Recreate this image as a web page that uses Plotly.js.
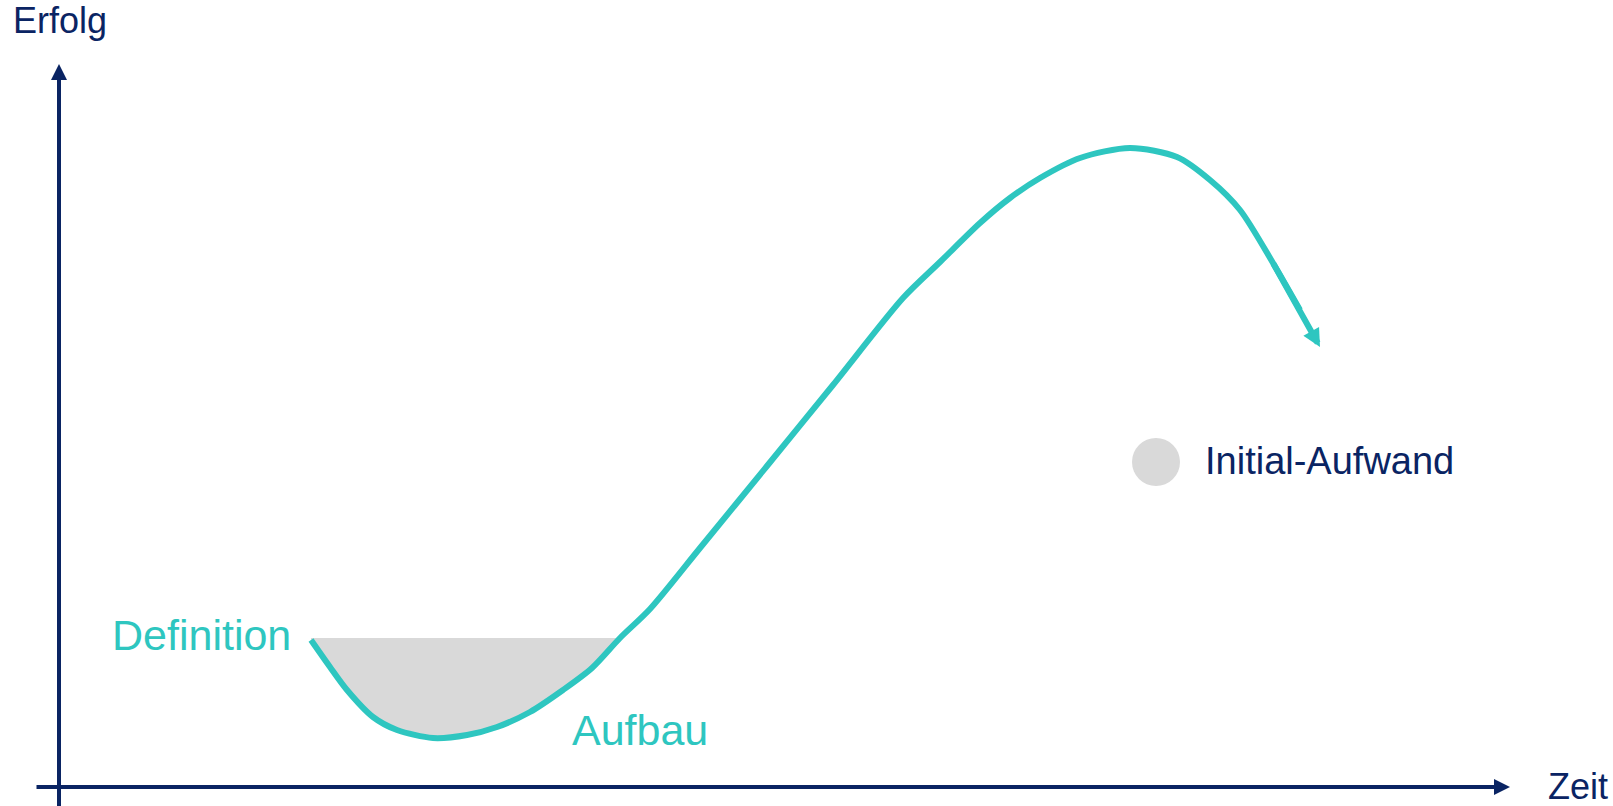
<!DOCTYPE html>
<html>
<head>
<meta charset="utf-8">
<script src="https://cdn.plot.ly/plotly-3.0.1.min.js"></script>
<style>
  html, body { margin: 0; padding: 0; background: #ffffff; }
  #chart { width: 1613px; height: 806px; }
</style>
</head>
<body>
<div id="chart"></div>
<script>
// Erfolgskurve über die Zeit (Definition → Aufbau → Höhepunkt → Abfall)
const zeit = [25.2, 27.1, 28.8, 31.4, 33.8, 37.4, 40.8, 43.8, 47.1, 50.4, 53.3, 56.1,
              59.1, 64.1, 70.8, 77.4, 84.4, 88.1, 92.1, 95.1, 98.1, 102.1, 107.1,
              111.8, 115.1, 118.1, 121.4, 124.1, 126.1];
const erfolg = [14.7, 12.0, 9.7, 7.0, 5.7, 4.9, 5.2, 6.0, 7.5, 9.7, 11.9, 14.9,
                17.8, 23.9, 32.1, 40.2, 48.9, 52.5, 56.4, 58.9, 60.9, 62.9, 63.9,
                63.0, 60.7, 57.7, 52.4, 47.7, 44.0];

// Initial-Aufwand: Fläche zwischen Startniveau und Kurve
const aufwandNiveau = [14.9];
const aufwandEnde = [56.1];

// Beschriftungen
const achsenTitel = ['Zeit', 'Erfolg'];
const phasen = ['Definition', 'Aufbau'];
const legendeText = ['Initial-Aufwand'];

const navy = '#0a2463';
const teal = '#2ec6c0';
const grau = '#d9d9d9';
const schrift = 'Liberation Sans, Arial, Helvetica, sans-serif';
const glatt = 0.8;

// Kurvenabschnitt der Senke (bis die Kurve das Startniveau wieder erreicht)
const senkeX = [], senkeY = [];
for (let i = 0; i < zeit.length && zeit[i] <= aufwandEnde[0]; i++) {
  senkeX.push(zeit[i]); senkeY.push(erfolg[i]);
}

const n = zeit.length;

const traces = [
  // Startniveau als Obergrenze der Fläche
  {
    x: [senkeX[0], aufwandEnde[0]], y: [aufwandNiveau[0], aufwandNiveau[0]],
    mode: 'lines', line: { width: 0, color: grau },
    hoverinfo: 'skip', showlegend: false
  },
  // Senke, bis zum Startniveau gefüllt
  {
    x: senkeX, y: senkeY, mode: 'lines', fill: 'tonexty', fillcolor: grau,
    line: { width: 0, color: grau, shape: 'spline', smoothing: glatt },
    hoverinfo: 'skip', showlegend: false
  },
  // Erfolgskurve
  {
    x: zeit.slice(0, n - 1), y: erfolg.slice(0, n - 1), mode: 'lines',
    line: { color: teal, width: 6, shape: 'spline', smoothing: glatt },
    hoverinfo: 'skip', showlegend: false
  },
  // Legendensymbol Initial-Aufwand
  {
    x: [109.7], y: [32.5], mode: 'markers',
    marker: { size: 48, color: grau },
    hoverinfo: 'skip', showlegend: false
  }
];

// Pfeile ohne Text
const pfeil = (x, y, ax, ay, farbe, breite, groesse) => ({
  x: x, y: y, ax: ax, ay: ay, xref: 'x', yref: 'y', axref: 'x', ayref: 'y',
  text: '', font: { size: 1 }, borderpad: 0, showarrow: true,
  arrowhead: 2, arrowsize: groesse, arrowwidth: breite, arrowcolor: farbe, standoff: 0
});

const annotations = [
  pfeil(0, 72.3, 0, -3, navy, 4, 0.8),           // y-Achse (Erfolg)
  pfeil(145.1, 0, -2.3, 0, navy, 4, 0.8),         // x-Achse (Zeit)
  // Pfeilspitze am Kurvenende, Schaft überlappt das letzte Kurvenstück
  pfeil(zeit[n - 1], erfolg[n - 1], zeit[n - 3], erfolg[n - 3], teal, 6, 0.6),
  { x: -4.8, y: 76.7, xref: 'x', yref: 'y', text: achsenTitel[1], showarrow: false,
    xanchor: 'left', yanchor: 'middle', font: { family: schrift, size: 36, color: navy } },
  { x: 148.7, y: 0.1, xref: 'x', yref: 'y', text: achsenTitel[0], showarrow: false,
    xanchor: 'left', yanchor: 'middle', font: { family: schrift, size: 36, color: navy } },
  { x: 114.4, y: 32.6, xref: 'x', yref: 'y', text: legendeText[0], showarrow: false,
    xanchor: 'left', yanchor: 'middle', font: { family: schrift, size: 38, color: navy } },
  { x: 5.1, y: 15.2, xref: 'x', yref: 'y', text: phasen[0], showarrow: false,
    xanchor: 'left', yanchor: 'middle', font: { family: schrift, size: 43, color: teal } },
  { x: 51.1, y: 5.7, xref: 'x', yref: 'y', text: phasen[1], showarrow: false,
    xanchor: 'left', yanchor: 'middle', font: { family: schrift, size: 43, color: teal } }
];

const layout = {
  width: 1613, height: 806,
  margin: { l: 0, r: 0, t: 0, b: 0, pad: 0 },
  paper_bgcolor: '#ffffff', plot_bgcolor: '#ffffff',
  xaxis: { range: [-5.9, 155.4], visible: false, fixedrange: true },
  yaxis: { range: [-1.9, 78.7], visible: false, fixedrange: true },
  showlegend: false,
  annotations: annotations
};

Plotly.newPlot('chart', traces, layout, { staticPlot: true, displayModeBar: false });
</script>
</body>
</html>
